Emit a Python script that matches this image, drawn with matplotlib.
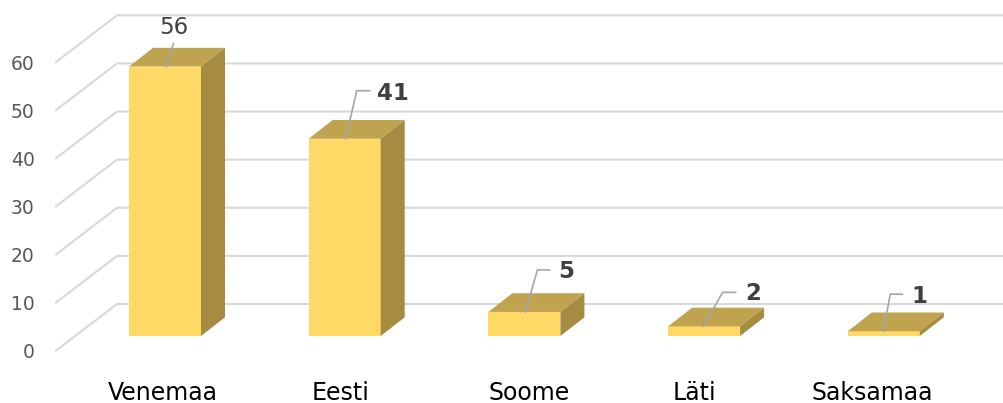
import matplotlib
matplotlib.use("Agg")
import matplotlib.pyplot as plt
from matplotlib.patches import Polygon
from matplotlib.transforms import ScaledTranslation

categories = ["Venemaa", "Eesti", "Soome", "Läti", "Saksamaa"]
values = [56, 41, 5, 2, 1]
y_ticks = [0, 10, 20, 30, 40, 50, 60]
bold_label = [False, True, True, True, True]

W, H = 1004, 403
fig = plt.figure(figsize=(W / 100, H / 100), dpi=100)
plt.rcParams["font.family"] = "DejaVu Sans"

# axes = the front plane of the 3-D box
L, T, B = 56.0, 62.0, 350.7
ax = fig.add_axes([L / W, 1 - B / H, (W - L) / W, (B - T) / H])
px_x = 179.7                 # pixels per category
px_y = (B - T) / 60.0        # pixels per value unit
first = 165.0
ax.set_xlim((L - first) / px_x, (W - first) / px_x)
ax.set_ylim(0, 60)
dx = lambda p: p / px_x
dy = lambda p: p / px_y

for s in ax.spines.values():
    s.set_visible(False)
ax.patch.set_alpha(0)

# gridlines: slanted side wall + back wall
x0 = ax.get_xlim()[0]
x1 = ax.get_xlim()[1]
for t in y_ticks:
    ax.plot([x0, x0 + dx(61), x1 + dx(2)], [t, t + dy(46.7), t + dy(46.7)],
            color="#d9d9d9", lw=1.5, clip_on=False, zorder=1,
            solid_joinstyle="miter")

bar_w = 72 / px_x
depth_x, depth_y = dx(24), dy(18.7)
floor = dy(350.7 - 336)

ax.bar(range(len(values)), values, width=bar_w, bottom=floor,
       color="#ffd966", zorder=3, linewidth=0)
for i, v in enumerate(values):
    l, r = i - bar_w / 2, i + bar_w / 2
    b, t = floor, floor + v
    ax.add_patch(Polygon([(l, t), (r, t), (r + depth_x, t + depth_y), (l + depth_x, t + depth_y)],
                         closed=True, fc="#bfa34f", ec="none", zorder=3, clip_on=False))
    ax.add_patch(Polygon([(r, b), (r, t), (r + depth_x, t + depth_y), (r + depth_x, b + depth_y)],
                         closed=True, fc="#a58c41", ec="none", zorder=3, clip_on=False))

# data-label leaders: pixel offsets from the bar's top-centre
leaders = [
    [(1, 0), (8.5, -23)],
    [(1, 0), (12, -48), (25, -48)],
    [(1, 0), (13, -42), (25, -42)],
    [(-0.5, 0), (18.5, -34), (31.5, -34)],
    [(-0.5, 0), (6.5, -37), (18.5, -37)],
]
label_offsets = [(8.5, -39), (48, -45), (42, -40), (49, -33), (36, -35)]
for i, v in enumerate(values):
    top = floor + v
    xs = [i + dx(p[0]) for p in leaders[i]]
    ys = [top - dy(p[1]) for p in leaders[i]]
    ax.plot(xs, ys, color="#a6a6a6", lw=1.2, zorder=4, clip_on=False)
    ox, oy = label_offsets[i]
    ax.text(i + dx(ox), top - dy(oy), str(v), ha="center", va="center",
            color="#404040", fontsize=16.5,
            fontweight="bold" if bold_label[i] else "normal", zorder=5)

ax.set_yticks(y_ticks)
ax.set_yticklabels([str(t) for t in y_ticks], color="#595959", fontsize=13.5)
ax.tick_params(axis="y", length=0, pad=15.5)
ax.set_xticks(range(len(categories)))
ax.set_xticklabels(categories, color="#000000", fontsize=17)
ax.tick_params(axis="x", length=0, pad=21.5)
# the reference's category labels sit slightly off the bar centres (pixels)
label_shift = [-2.5, -4, 5, -9.5, -11.5]
for lab, s in zip(ax.get_xticklabels(), label_shift):
    lab.set_transform(lab.get_transform() + ScaledTranslation(s / 100, 0, fig.dpi_scale_trans))

fig.savefig("out.png", dpi=100, facecolor="white")
